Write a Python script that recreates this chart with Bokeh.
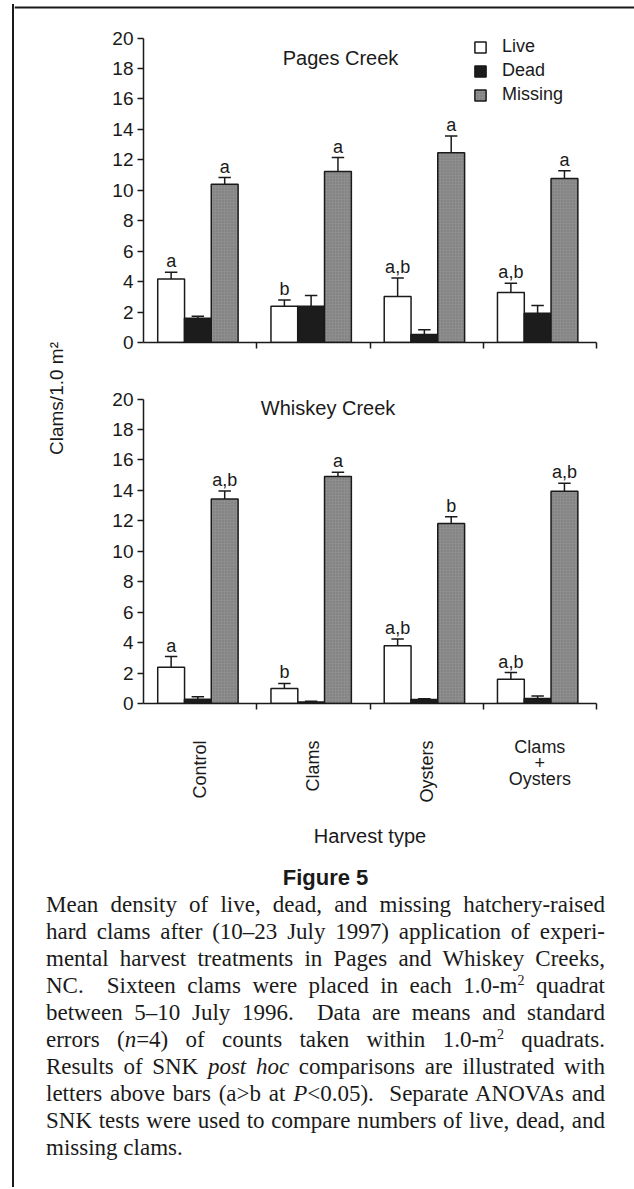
import numpy as np
from bokeh.plotting import figure
from bokeh.models import (Range1d, FixedTicker, Legend, LegendItem, Label, Div,
                          ColumnDataSource)
from bokeh.layouts import row, column
from bokeh.core.properties import value
from bokeh.embed import file_html
from bokeh.resources import INLINE

# ---------------- data ----------------
categories = ["Control", "Clams", "Oysters", "Clams + Oysters"]
category_labels = ["Control", "Clams", "Oysters", "Clams\n+\nOysters"]
series_names = ["Live", "Dead", "Missing"]
y_ticks = [0, 2, 4, 6, 8, 10, 12, 14, 16, 18, 20]

pages_live = [4.18, 2.38, 3.02, 3.28]
pages_live_se = [0.43, 0.42, 1.22, 0.61]
pages_dead = [1.60, 2.38, 0.52, 1.92]
pages_dead_se = [0.12, 0.70, 0.31, 0.51]
pages_missing = [10.40, 11.24, 12.46, 10.78]
pages_missing_se = [0.44, 0.91, 1.11, 0.50]
pages_live_letters = ["a", "b", "a,b", "a,b"]
pages_dead_letters = ["", "", "", ""]
pages_missing_letters = ["a", "a", "a", "a"]

whiskey_live = [2.38, 0.99, 3.79, 1.59]
whiskey_live_se = [0.70, 0.33, 0.44, 0.44]
whiskey_dead = [0.28, 0.10, 0.26, 0.33]
whiskey_dead_se = [0.16, 0.05, 0.05, 0.17]
whiskey_missing = [13.44, 14.91, 11.83, 13.94]
whiskey_missing_se = [0.53, 0.29, 0.44, 0.53]
whiskey_live_letters = ["a", "b", "a,b", "a,b"]
whiskey_dead_letters = ["", "", "", ""]
whiskey_missing_letters = ["a,b", "a", "b", "a,b"]

SUP2 = '<sup style="font-size:14px;line-height:0;vertical-align:8px;">2</sup>'
caption_lines = [
    "Mean density of live, dead, and missing hatchery-raised",
    "hard clams after (10&ndash;23 July 1997) application of experi-",
    "mental harvest treatments in Pages and Whiskey Creeks,",
    "NC.&nbsp; Sixteen clams were placed in each 1.0-m" + SUP2 + " quadrat",
    "between 5&ndash;10 July 1996.&nbsp; Data are means and standard",
    "errors (<i>n</i>=4) of counts taken within 1.0-m" + SUP2 + " quadrats.",
    "Results of SNK <i>post hoc</i> comparisons are illustrated with",
    "letters above bars (a&gt;b at <i>P</i>&lt;0.05).&nbsp; Separate ANOVAs and",
    "SNK tests were used to compare numbers of live, dead, and",
    "missing clams.",
]

# ---------------- style ----------------
INK = "#1a1a1a"
SANS = "Liberation Sans"
SERIF = "Liberation Serif"
offsets = [-0.256, -0.020, 0.217]
bar_w = 0.237
cap_half = 0.055
fills = ["white", "#1c1c1c", "#8e8e8e"]

PLOT_W = 554
BL, BR = 63, 38


def style_axes(p):
    p.grid.visible = False
    p.outline_line_color = None
    p.background_fill_color = "white"
    p.border_fill_color = "white"
    ya = p.yaxis[0]
    ya.ticker = FixedTicker(ticks=y_ticks)
    ya.bounds = (0, 20)
    ya.major_tick_out = 6
    ya.major_tick_in = 0
    ya.minor_tick_out = 0
    ya.minor_tick_in = 0
    ya.axis_line_width = 1.5
    ya.axis_line_color = INK
    ya.major_tick_line_width = 1.5
    ya.major_tick_line_color = INK
    ya.major_label_text_font = SANS
    ya.major_label_text_font_size = "19px"
    ya.major_label_text_color = INK
    ya.major_label_standoff = 4
    xa = p.xaxis[0]
    xa.ticker = FixedTicker(ticks=[1, 2, 3, 4])
    xa.major_label_overrides = {1: "", 2: "", 3: "", 4: ""}
    xa.major_label_text_font_size = "10px"
    xa.major_label_standoff = 0
    xa.major_tick_out = 6
    xa.major_tick_in = 0
    xa.minor_tick_out = 0
    xa.minor_tick_in = 0
    xa.axis_line_width = 1.5
    xa.axis_line_color = INK
    xa.major_tick_line_width = 1.5
    xa.major_tick_line_color = INK


def make_panel(title, tx, ty, means, ses, letters, height, top_b, bot_b, legend):
    p = figure(width=PLOT_W, height=height, x_range=Range1d(0, 4),
               y_range=Range1d(0, 20.5), output_backend="svg",
               toolbar_location=None, min_border_left=BL, min_border_right=BR,
               min_border_top=top_b, min_border_bottom=bot_b)
    style_axes(p)
    renderers = []
    for s, (m, e, lt) in enumerate(zip(means, ses, letters)):
        xs = [i + 0.5 + offsets[s] for i in range(len(categories))]
        tops = [mi + ei for mi, ei in zip(m, e)]
        src = ColumnDataSource(dict(x=xs, top=m, etop=tops, lab=lt,
                                    xl=[x - cap_half for x in xs],
                                    xr=[x + cap_half for x in xs]))
        kw = {}
        if s == 2:
            kw = dict(hatch_pattern="dot", hatch_color="#555555",
                      hatch_scale=3, hatch_weight=1, hatch_alpha=0.5)
        r = p.vbar(x="x", top="top", bottom=0, width=bar_w, source=src,
                   fill_color=fills[s], line_color=INK, line_width=1.5, **kw)
        renderers.append(r)
        p.segment(x0="x", y0="top", x1="x", y1="etop", source=src,
                  line_color=INK, line_width=1.5)
        p.segment(x0="xl", y0="etop", x1="xr", y1="etop", source=src,
                  line_color=INK, line_width=1.5)
        p.text(x="x", y="etop", text="lab", source=src, text_align="center",
               text_baseline="alphabetic", y_offset=-11,
               text_font=value(SANS), text_font_size="18px", text_color=INK)
    p.add_layout(Label(x=tx, y=ty, text=title, text_align="center",
                       text_baseline="middle", text_font=SANS,
                       text_font_size="20px", text_color=INK))
    if legend:
        items = [LegendItem(label=n, renderers=[r])
                 for n, r in zip(series_names, renderers)]
        lg = Legend(items=items, location=(330, 237), orientation="vertical",
                    glyph_width=14, glyph_height=14, label_standoff=15,
                    spacing=3, padding=0, margin=0, border_line_color=None,
                    background_fill_alpha=0, label_text_font=SANS,
                    label_text_font_size="18px", label_text_color=INK,
                    label_height=18)
        p.add_layout(lg)
    return p


HEAD_H = 10
TOP_H, BOT_H, LAB_H = 362, 351, 137
fig_top = make_panel("Pages Creek", 1.74, 18.7,
                     [pages_live, pages_dead, pages_missing],
                     [pages_live_se, pages_dead_se, pages_missing_se],
                     [pages_live_letters, pages_dead_letters, pages_missing_letters],
                     TOP_H, 20, 30, True)
fig_bot = make_panel("Whiskey Creek", 1.63, 19.4,
                     [whiskey_live, whiskey_dead, whiskey_missing],
                     [whiskey_live_se, whiskey_dead_se, whiskey_missing_se],
                     [whiskey_live_letters, whiskey_dead_letters, whiskey_missing_letters],
                     BOT_H, 19, 20, False)

# category labels + x-axis title
fig_lab = figure(width=PLOT_W, height=LAB_H, x_range=fig_bot.x_range,
                 y_range=Range1d(0, LAB_H), output_backend="svg",
                 toolbar_location=None, x_axis_type=None, y_axis_type=None,
                 min_border_left=BL, min_border_right=BR, min_border_top=0,
                 min_border_bottom=0)
fig_lab.grid.visible = False
fig_lab.outline_line_color = None
centers = [i + 0.5 for i in range(len(categories))]
fig_lab.text(x=centers[:3], y=120, text=category_labels[:3], angle=np.pi / 2,
             text_align="right", text_baseline="middle", text_font=value(SANS),
             text_font_size="18px", text_color=INK)
fig_lab.text(x=centers[3:], y=124, text=category_labels[3:], text_align="center",
             text_baseline="top", text_font=value(SANS), text_font_size="18px",
             text_line_height=0.8, text_color=INK)
fig_lab.text(x=[2.0], y=25, text=["Harvest type"], text_align="center",
             text_baseline="middle", text_font=value(SANS), text_font_size="20px",
             text_color=INK)

# y-axis title strip
YL_W = 66
YL_H = TOP_H + BOT_H + LAB_H
fig_ylab = figure(width=YL_W, height=YL_H, x_range=Range1d(0, YL_W),
                  y_range=Range1d(0, YL_H), output_backend="svg",
                  toolbar_location=None, x_axis_type=None, y_axis_type=None,
                  min_border=0)
fig_ylab.grid.visible = False
fig_ylab.outline_line_color = None
fig_ylab.text(x=[42], y=[462], text=["Clams/1.0 m\u00b2"], angle=np.pi / 2,
              text_align="center", text_baseline="middle", text_font=value(SANS),
              text_font_size="19px", text_color=INK)

# header strip carrying the top rule of the figure box
HEAD_W = 620
fig_head = figure(width=HEAD_W, height=HEAD_H, x_range=Range1d(0, HEAD_W),
                  y_range=Range1d(0, HEAD_H), output_backend="svg",
                  toolbar_location=None, x_axis_type=None, y_axis_type=None,
                  min_border=0)
fig_head.grid.visible = False
fig_head.outline_line_color = None
fig_head.quad(left=[0], right=[HEAD_W], bottom=[4], top=[6],
              fill_color=INK, line_color=None)

# caption
body = []
body.append('<div style="text-align:center;font-family:\'Liberation Sans\';'
            'font-weight:bold;font-size:22px;line-height:26px;">Figure 5</div>')
for i, ln in enumerate(caption_lines):
    last = i == len(caption_lines) - 1
    al = "text-align:left;" if last else "text-align:justify;text-align-last:justify;"
    body.append(f'<div style="{al}height:27px;">{ln}</div>')
cap_html = ('<div style="width:559px;margin-left:32px;padding-top:5px;'
            f'font-family:\'{SERIF}\';font-size:23px;line-height:27px;color:{INK};">'
            + "".join(body) + '</div>')
CAP_H = 327
caption = Div(text=cap_html, width=620, height=CAP_H, margin=(0, 0, 0, 0))

# left rule of the figure box (with its corner)
FRAME_H = HEAD_H + YL_H + CAP_H
corner = Div(text=(f'<div style="position:relative;width:14px;height:{FRAME_H}px;">'
                   f'<div style="position:absolute;left:12px;top:4px;width:2px;'
                   f'height:2px;background:{INK};"></div>'
                   f'<div style="position:absolute;left:12px;top:4px;width:2px;'
                   f'height:{FRAME_H - 4}px;background:{INK};"></div></div>'),
             width=14, height=FRAME_H, margin=(0, 0, 0, 0))

body_col = column(fig_head, row(fig_ylab, column(fig_top, fig_bot, fig_lab)), caption)
root = row(corner, body_col)

open("out.html", "w").write(file_html(root, INLINE))
